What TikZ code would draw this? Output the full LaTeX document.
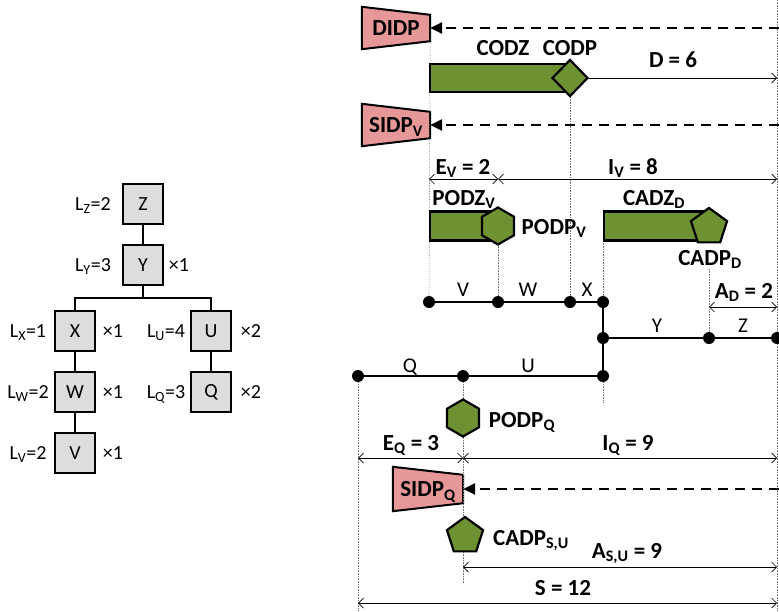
\documentclass[tikz,border=0pt]{standalone}
\usepackage{fontspec}
\setmainfont{Carlito}
\usetikzlibrary{arrows.meta,shapes.geometric,backgrounds,calc}

\definecolor{idpred}{RGB}{230,152,152}
\definecolor{zonegreen}{RGB}{110,146,50}
\definecolor{boxgray}{RGB}{221,221,221}

% trapezoid drawn behind a decoupling-point label
\newcommand{\idpshape}[1]{%
  \filldraw[fill=idpred, line width=2pt] (#1.north west) -- ([yshift=-8pt]#1.north east)
    -- ([yshift=8pt]#1.south east) -- (#1.south west) -- cycle;}

\begin{document}
\begin{tikzpicture}[x=1pt, y=-1pt,
    lbl/.style={font=\fontsize{23}{26}\selectfont\bfseries, inner sep=0pt, anchor=base},
    seg/.style={font=\fontsize{21}{24}\selectfont, inner sep=0pt, anchor=base},
    tlbl/.style={font=\fontsize{20}{23}\selectfont, inner sep=0pt, anchor=base},
    tbox/.style={draw, fill=boxgray, line width=1.2pt, minimum size=40pt, inner sep=0pt,
                 font=\fontsize{20}{23}\selectfont},
    idp/.style={minimum width=68pt, minimum height=42pt, inner sep=0pt, text depth=0pt,
                font=\fontsize{23}{26}\selectfont\bfseries},
    zone/.style={draw, fill=zonegreen, line width=2.2pt, inner sep=0pt, minimum height=28pt, anchor=west},
    hexa/.style={regular polygon, regular polygon sides=6, shape border rotate=90, draw,
                 fill=zonegreen, line width=2.2pt, minimum size=37pt, inner sep=0pt},
    penta/.style={regular polygon, regular polygon sides=5, draw,
                  fill=zonegreen, line width=2.2pt, minimum size=38pt, inner sep=0pt},
    dmd/.style={diamond, draw, fill=zonegreen, line width=2.2pt, minimum width=36pt,
                minimum height=37pt, inner sep=0pt},
    guide/.style={densely dotted, line width=0.6pt, black!55},
    dim/.style={line width=0.7pt, {Straight Barb[length=5pt,width=10pt]}-{Straight Barb[length=5pt,width=10pt]}},
    dimr/.style={line width=0.7pt, -{Straight Barb[length=5pt,width=10pt]}},
    feed/.style={line width=2.6pt, dash pattern=on 10pt off 7pt, -{Triangle[length=12pt,width=11pt]}},
    tl/.style={line width=2.8pt},
    dot/.style={circle, fill, inner sep=0pt, minimum size=12pt},
    tedge/.style={line width=1.2pt}]
  \useasboundingbox (0,0) rectangle (779,611);

  % --- product structure (left) ---
  \node[tbox] (tZ) at (143,204) {Z};
  \node[tbox] (tY) at (143,265) {Y};
  \node[tbox] (tX) at (75,331) {X};
  \node[tbox] (tW) at (75,392) {W};
  \node[tbox] (tV) at (75,453) {V};
  \node[tbox] (tU) at (211,331) {U};
  \node[tbox] (tQ) at (211,392) {Q};
  \coordinate (br) at (143,298);
  \draw[tedge] (tZ) -- (tY);
  \draw[tedge] (tY) -- (br);
  \draw[tedge] (tX.north) |- (br) -| (tU.north);
  \draw[tedge] (tX) -- (tW);
  \draw[tedge] (tW) -- (tV);
  \draw[tedge] (tU) -- (tQ);
  \node[tlbl] (lZ) at (93,210) {L\textsubscript{Z}=2};
  \node[tlbl] (lY) at (93,271) {L\textsubscript{Y}=3};
  \node[tlbl] (mY) at (179,271) {×1};
  \node[tlbl] (lX) at (28,337) {L\textsubscript{X}=1};
  \node[tlbl] (mX) at (113,337) {×1};
  \node[tlbl] (lU) at (166,337) {L\textsubscript{U}=4};
  \node[tlbl] (mU) at (251,337) {×2};
  \node[tlbl] (lW) at (28,398) {L\textsubscript{W}=2};
  \node[tlbl] (mW) at (113,398) {×1};
  \node[tlbl] (lQ) at (166,398) {L\textsubscript{Q}=3};
  \node[tlbl] (mQ) at (251,398) {×2};
  \node[tlbl] (lV) at (28,459) {L\textsubscript{V}=2};
  \node[tlbl] (mV) at (113,459) {×1};

  % --- time line (right) ---
  \coordinate (dV) at (429,302);
  \coordinate (dW) at (498,302);
  \coordinate (dX) at (570,302);
  \coordinate (dXe) at (603,302);
  \coordinate (dY) at (603,338);
  \coordinate (dZ) at (709,338);
  \coordinate (dZe) at (777,338);
  \coordinate (dQ) at (358,376);
  \coordinate (dU) at (463,376);
  \coordinate (dUe) at (603,376);
  \coordinate (rTop) at (777,0);
  \coordinate (rBot) at (777,611);
  \coordinate (qBot) at (358,611);
  \coordinate (uBot) at (463,583);
  \coordinate (uExt) at (603,402);

  % decoupling points and zones
  \node[idp] (didp) at (396,28) {DIDP};
  \node[idp] (sidpv) at (396,125) {SIDP\textsubscript{V}};
  \node[idp, minimum width=70pt, minimum height=44pt] (sidpq) at (428,489) {SIDP\textsubscript{Q}};
  \begin{scope}[on background layer]
    \idpshape{didp}
    \idpshape{sidpv}
    \idpshape{sidpq}
  \end{scope}
  \node[lbl] (cadpdL) at (710,265) {CADP\textsubscript{D}};

  % guide lines
  \draw[guide] (rTop) -- (rBot);
  \draw[guide] (didp.east) -- (dV);
  \draw[guide] (570,97) -- (dX);
  \draw[guide] (498,244) -- (dW);
  \draw[guide] (603,241) -- (dXe);
  \draw[guide] (cadpdL.south -| dZ) -- (dZ);
  \draw[guide] (dUe) -- (uExt);
  \draw[guide] (dQ) -- (qBot);
  \draw[guide] (dU) -- (uBot);

  \node[zone, minimum width=141pt] (codz) at (429,78) {};
  \node[dmd] (codp) at (570,78) {};
  \node[zone, minimum width=69pt, minimum height=29pt] (podzv) at (429,226) {};
  \node[hexa] (podpv) at (498,226) {};
  \node[zone, minimum width=106pt, minimum height=29pt] (cadzd) at (603,226) {};
  \node[penta] (cadpd) at (709,227) {};
  \node[hexa] (podpq) at (463,418) {};
  \node[penta] (cadpsu) at (465,536) {};

  % information feeds
  \coordinate (fD) at (779,28);
  \coordinate (fV) at (779,125);
  \coordinate (fQ) at (779,489);
  \draw[feed] (fD) -- (didp.east);
  \draw[feed] (fV) -- (sidpv.east);
  \draw[feed] (fQ) -- (sidpq.east);

  % operations
  \draw[tl] (dQ) -- (dUe) -- (dXe) -- (dV);
  \draw[tl] (dY) -- (dZe);
  \foreach \p in {dV,dW,dX,dXe,dY,dZ,dZe,dQ,dU,dUe}
    \node[dot] at (\p) {};
  \node[seg] (sV) at (463,296) {V};
  \node[seg] (sW) at (528,296) {W};
  \node[seg] (sX) at (587,296) {X};
  \node[seg] (sY) at (657,332) {Y};
  \node[seg] (sZ) at (743,332) {Z};
  \node[seg] (sQ) at (410,372) {Q};
  \node[seg] (sU) at (528,372) {U};

  % dimensions
  \coordinate (dimD) at (777,78);
  \coordinate (ev1) at (429,179);
  \coordinate (ev2) at (498,179);
  \coordinate (iv2) at (777,179);
  \coordinate (ad1) at (709,307);
  \coordinate (ad2) at (777,307);
  \coordinate (eq1) at (358,458);
  \coordinate (eq2) at (463,458);
  \coordinate (iq2) at (777,458);
  \coordinate (as1) at (463,567);
  \coordinate (as2) at (777,567);
  \coordinate (s1) at (358,603);
  \coordinate (s2) at (777,603);
  \draw[dimr] (codp.east) -- (dimD);
  \draw[dim] (ev1) -- (ev2);
  \draw[dim] (ev2) -- (iv2);
  \draw[dim] (ad1) -- (ad2);
  \draw[dim] (eq1) -- (eq2);
  \draw[dim] (eq2) -- (iq2);
  \draw[dim] (as1) -- (as2);
  \draw[dim] (s1) -- (s2);

  % labels
  \node[lbl] (codzL) at (503,55) {CODZ};
  \node[lbl] (codpL) at (570,55) {CODP};
  \node[lbl] (dL) at (673,67) {D = 6};
  \node[lbl] (evL) at (463,174) {E\textsubscript{V} = 2};
  \node[lbl] (ivL) at (633,174) {I\textsubscript{V} = 8};
  \node[lbl] (podzvL) at (464,205) {PODZ\textsubscript{V}};
  \node[lbl] (cadzdL) at (654,205) {CADZ\textsubscript{D}};
  \node[lbl] (podpvL) at (554,234) {PODP\textsubscript{V}};
  \node[lbl] (adL) at (744,298) {A\textsubscript{D} = 2};
  \node[lbl] (podpqL) at (522,427) {PODP\textsubscript{Q}};
  \node[lbl] (eqL) at (411,450) {E\textsubscript{Q} = 3};
  \node[lbl] (iqL) at (628,450) {I\textsubscript{Q} = 9};
  \node[lbl] (cadpsuL) at (531,545) {CADP\textsubscript{S,U}};
  \node[lbl] (asL) at (627,558) {A\textsubscript{S,U} = 9};
  \node[lbl] (sL) at (563,595) {S = 12};
\end{tikzpicture}
\end{document}
